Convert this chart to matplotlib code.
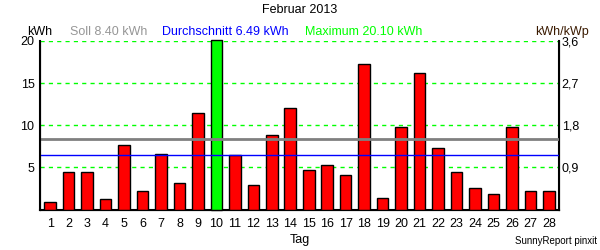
import matplotlib
matplotlib.use('Agg')
import matplotlib.pyplot as plt

plt.rcParams['font.family'] = ['Liberation Sans', 'DejaVu Sans']

# daily yield February 2013 (kWh)
days = list(range(1, 29))
yields = [0.85, 4.4, 4.5, 1.3, 7.7, 2.25, 6.55, 3.2, 11.4, 20.1,
          6.45, 2.9, 8.9, 12.0, 4.65, 5.25, 4.05, 17.25, 1.4, 9.75,
          16.2, 7.25, 4.4, 2.6, 1.8, 9.75, 2.15, 2.25]
soll = 8.40
avg = 6.49
maximum = 20.10
kwp = 20 / 3.6

left_ticks = [5, 10, 15, 20]
right_labels = ['0,9', '1,8', '2,7', '3,6']

fig = plt.figure(figsize=(6, 2.5), dpi=100)
ax = fig.add_axes([40 / 600, 1 - 209.5 / 250, 519 / 600, 168.5 / 250])

colors = ['#00ff00' if v == max(yields) else '#ff0000' for v in yields]
for d, v, c in zip(days, yields, colors):
    ax.bar(d, v, width=0.63, color=c, edgecolor='black', linewidth=1,
           zorder=3, clip_on=(c != '#00ff00'))

for y in left_ticks:
    ax.axhline(y, color='#00ff00', linestyle=(0, (3, 3)), linewidth=1, zorder=1)
ax.axhline(soll, color='#808080', linewidth=2, zorder=4)
ax.axhline(avg, color='#0000ff', linewidth=1, zorder=4)

ax.set_xlim(0.45, 28.55)
ax.set_ylim(0, 20)
ax.set_xticks(days)
ax.set_xticklabels([str(d) for d in days], fontsize=9)
ax.set_yticks(left_ticks)
ax.set_yticklabels([str(t) for t in left_ticks], fontsize=9)
ax.tick_params(length=0, pad=4)
ax.tick_params(axis='x', pad=6)

ax.spines['top'].set_visible(False)
for s in ['left', 'right', 'bottom']:
    ax.spines[s].set_linewidth(1.5)
    ax.spines[s].set_color('black')

ax2 = ax.twinx()
ax2.set_ylim(0, 20 / kwp)
ax2.set_yticks([0.9, 1.8, 2.7, 3.6])
ax2.set_yticklabels(right_labels, fontsize=9)
ax2.tick_params(length=0, pad=2)
ax2.spines['top'].set_visible(False)

ax.set_xlabel('Tag', fontsize=9, labelpad=3)

fig.text(0.5, 1 - 10 / 250, 'Februar 2013', ha='center', va='center', fontsize=9)
fig.text(27 / 600, 1 - 32 / 250, 'kWh', ha='left', va='center', fontsize=9)
fig.text(70 / 600, 1 - 32 / 250, 'Soll %.2f kWh' % soll, ha='left', va='center',
         fontsize=9, color='#969696')
fig.text(162 / 600, 1 - 32 / 250, 'Durchschnitt %.2f kWh' % avg, ha='left',
         va='center', fontsize=9, color='#0000ff')
fig.text(305 / 600, 1 - 32 / 250, 'Maximum %.2f kWh' % maximum, ha='left',
         va='center', fontsize=9, color='#00ff00')
fig.text(589 / 600, 1 - 32 / 250, 'kWh/kWp', ha='right', va='center',
         fontsize=9, color='#3a1a00')
fig.text(597 / 600, 1 - 241 / 250, 'SunnyReport pinxit', ha='right', va='center',
         fontsize=7)

fig.savefig('out.png', dpi=100)
